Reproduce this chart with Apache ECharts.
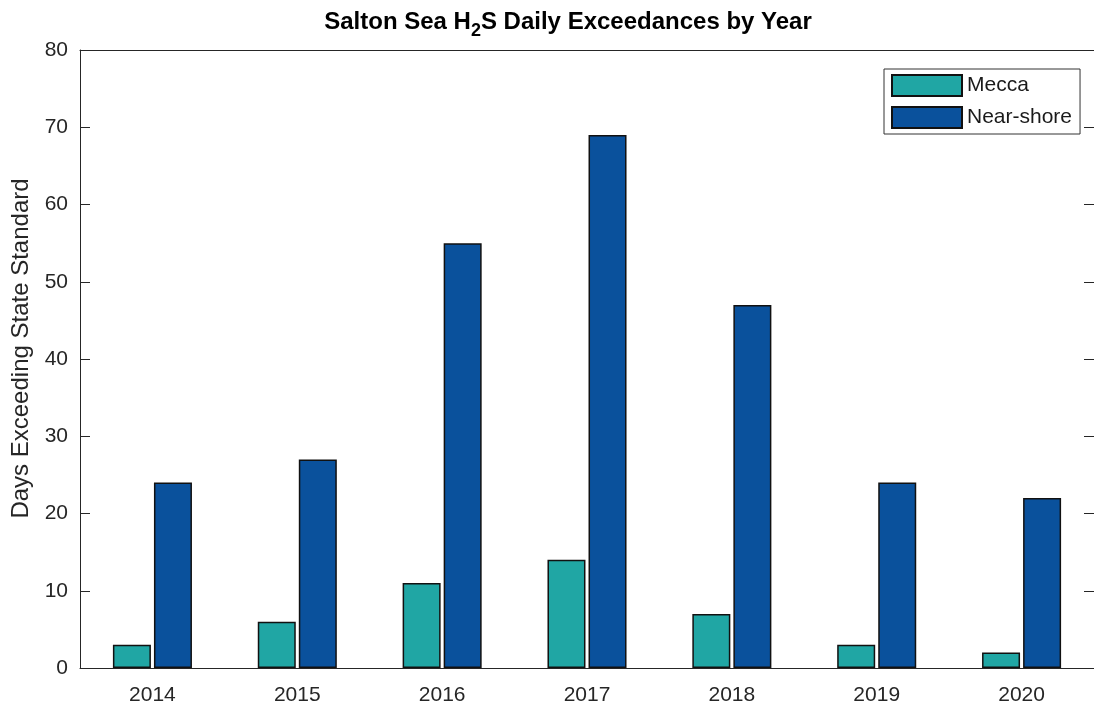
<!DOCTYPE html>
<html>
<head>
<meta charset="utf-8">
<script src="https://cdn.jsdelivr.net/npm/echarts@6/dist/echarts.min.js"></script>
<style>
  html, body { margin: 0; padding: 0; background: #fff; }
  #chart { width: 1094px; height: 711px; }
</style>
</head>
<body>
<div id="chart"></div>
<script>
const years = ['2014', '2015', '2016', '2017', '2018', '2019', '2020']
const mecca = [3, 6, 11, 14, 7, 3, 2]
const nearShore = [24, 27, 55, 69, 47, 24, 22]
const yTicks = { min: 0, max: 80, interval: 10 }

const font = 'Liberation Sans, Arial, Helvetica, sans-serif'
const axisColor = '#262626'

const chart = echarts.init(document.getElementById('chart'))

const option = {
  animation: false,
  textStyle: { fontFamily: font },
  title: {
    text: '{a|Salton Sea H}{sub|2}{a|S Daily Exceedances by Year}',
    left: 563,
    textAlign: 'center',
    top: 3,
    textStyle: {
      rich: {
        a: { fontFamily: font, fontSize: 24, fontWeight: 'bold', color: '#000', lineHeight: 28 },
        sub: { fontFamily: font, fontSize: 18, fontWeight: 'bold', color: '#000', lineHeight: 21, padding: [18, 0, 0, 0] }
      }
    }
  },
  legend: {
    orient: 'vertical',
    left: 884,
    top: 69,
    padding: [5, 8, 5, 7],
    itemWidth: 70,
    itemHeight: 21,
    itemGap: 9,
    icon: 'rect',
    borderColor: '#333',
    borderWidth: 1,
    backgroundColor: '#fff',
    textStyle: { fontFamily: font, fontSize: 21, lineHeight: 21, color: '#1a1a1a' }
  },
  grid: { left: 80, top: 50, width: 1019, height: 618 },
  xAxis: [
    {
      type: 'category',
      data: years,
      position: 'bottom',
      axisLine: { onZero: false, lineStyle: { color: axisColor, width: 1 } },
      axisTick: { show: false },
      axisLabel: { fontFamily: font, fontSize: 21, color: axisColor, margin: 17 }
    },
    {
      type: 'category',
      data: years,
      position: 'top',
      axisLine: { show: true, onZero: false, lineStyle: { color: axisColor, width: 1 } },
      axisTick: { show: false },
      axisLabel: { show: false }
    }
  ],
  yAxis: [
    {
      type: 'value',
      min: yTicks.min,
      max: yTicks.max,
      interval: yTicks.interval,
      position: 'left',
      name: 'Days Exceeding State Standard',
      nameLocation: 'middle',
      nameGap: 45,
      nameTextStyle: { fontFamily: font, fontSize: 24, color: axisColor, padding: [0, 0, 0, 21] },
      axisLine: { show: true, onZero: false, lineStyle: { color: axisColor, width: 1 } },
      axisTick: { show: true, inside: true, length: 10, lineStyle: { color: axisColor } },
      axisLabel: { fontFamily: font, fontSize: 21, color: axisColor, margin: 12, padding: [4, 0, 0, 0] },
      splitLine: { show: false }
    },
    {
      type: 'value',
      min: yTicks.min,
      max: yTicks.max,
      interval: yTicks.interval,
      position: 'right',
      axisLine: { show: true, onZero: false, lineStyle: { color: axisColor, width: 1 } },
      axisTick: { show: true, inside: true, length: 10, lineStyle: { color: axisColor } },
      axisLabel: { show: false },
      splitLine: { show: false }
    }
  ],
  series: [
    {
      name: 'Mecca',
      type: 'bar',
      data: mecca,
      barWidth: 38,
      barGap: '8%',
      itemStyle: { color: '#20a6a4', borderColor: '#111', borderWidth: 1.5 }
    },
    {
      name: 'Near-shore',
      type: 'bar',
      data: nearShore,
      barWidth: 38,
      barGap: '8%',
      itemStyle: { color: '#0a519c', borderColor: '#111', borderWidth: 1.5 }
    }
  ]
}

chart.setOption(option)
</script>
</body>
</html>
